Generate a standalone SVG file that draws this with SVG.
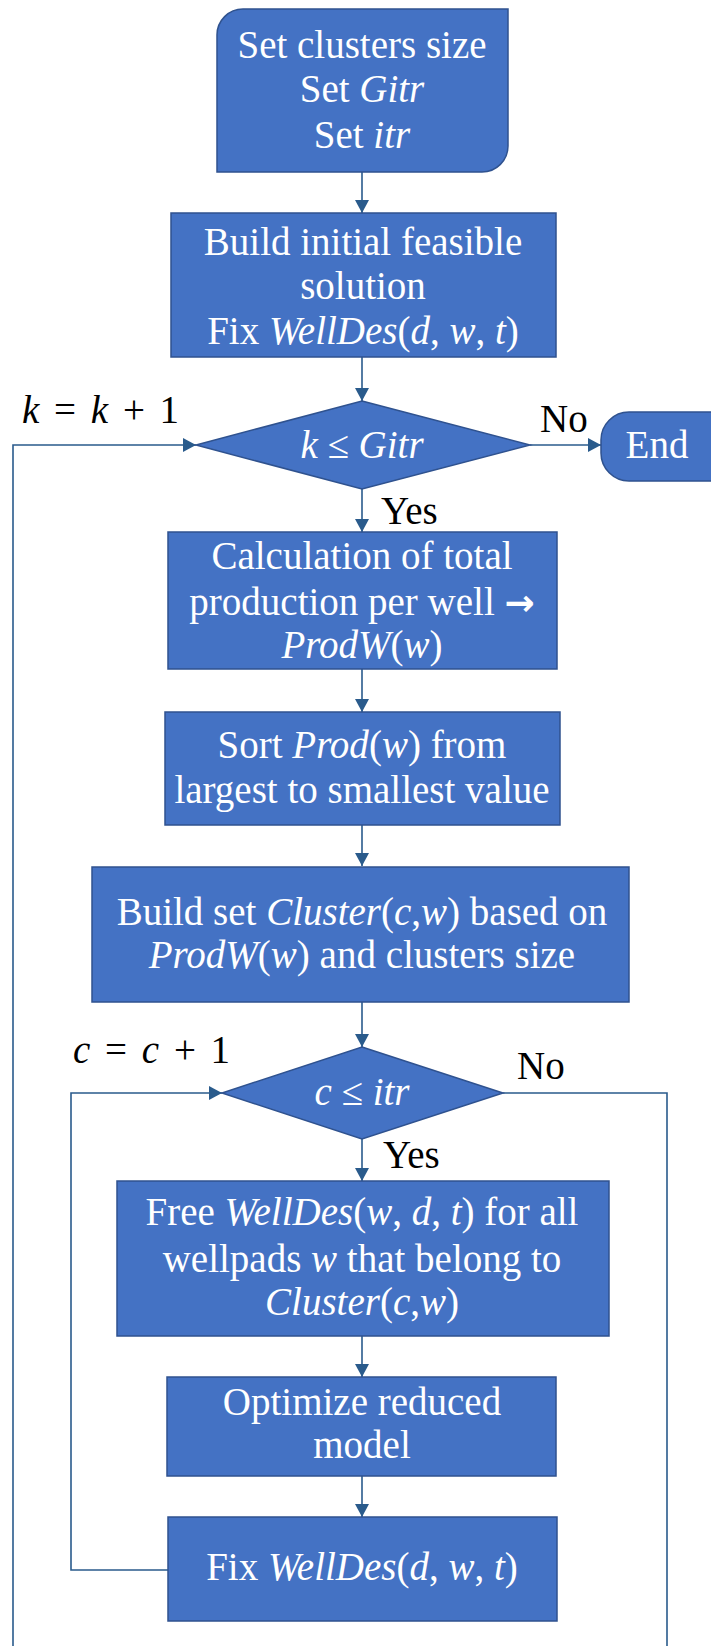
<svg xmlns="http://www.w3.org/2000/svg" width="711" height="1646" viewBox="0 0 711 1646">
<style>
.box{fill:#4472C4;stroke:#2F528F;stroke-width:1.5}
.t{font-family:"Liberation Serif","Times New Roman",serif;font-size:39px;fill:#fff;text-anchor:middle}
.l{font-family:"Liberation Serif","Times New Roman",serif;font-size:39px;fill:#000}
.m{word-spacing:5px}
.i{font-style:italic}
.ar{font-family:"DejaVu Sans",sans-serif;font-size:36px;font-weight:bold}
.c{fill:none;stroke:#2A5B8C;stroke-width:1.6}
</style>
<defs>
<marker id="ah" markerUnits="userSpaceOnUse" markerWidth="14" markerHeight="14" refX="13" refY="7" orient="auto">
<path d="M0,0 L13,7 L0,14 z" fill="#2A5B8C"/>
</marker>
</defs>
<rect width="711" height="1646" fill="#fff"/>
<g id="connectors">
<path class="c" d="M362,172 V213" marker-end="url(#ah)"/>
<path class="c" d="M362,357 V401" marker-end="url(#ah)"/>
<path class="c" d="M530,445 H601" marker-end="url(#ah)"/>
<path class="c" d="M362,489 V532" marker-end="url(#ah)"/>
<path class="c" d="M362,669 V712" marker-end="url(#ah)"/>
<path class="c" d="M362,825 V866" marker-end="url(#ah)"/>
<path class="c" d="M362,1002 V1047" marker-end="url(#ah)"/>
<path class="c" d="M362,1139 V1181" marker-end="url(#ah)"/>
<path class="c" d="M362,1336 V1377" marker-end="url(#ah)"/>
<path class="c" d="M362,1476 V1517" marker-end="url(#ah)"/>
<path class="c" d="M168,1570 H71 V1093 H222" marker-end="url(#ah)"/>
<path class="c" d="M13,1650 V445 H196" marker-end="url(#ah)"/>
<path class="c" d="M503,1093 H667 V1650"/>
<text class="l m" x="22" y="423"><tspan class="i">k</tspan> = <tspan class="i">k</tspan> + 1</text>
<text class="l" x="540" y="432">No</text>
<text class="l" x="381" y="524">Yes</text>
<text class="l m" x="73" y="1063"><tspan class="i">c</tspan> = <tspan class="i">c</tspan> + 1</text>
<text class="l" x="517" y="1079">No</text>
<text class="l" x="383" y="1168">Yes</text>
</g>
<g id="start">
<path class="box" d="M243,9 H508 V146 A26,26 0 0 1 482,172 H217 V35 A26,26 0 0 1 243,9 Z"/>
<text class="t" x="362" y="58">Set clusters size</text>
<text class="t" x="362" y="102">Set <tspan class="i">Gitr</tspan></text>
<text class="t" x="362" y="148">Set <tspan class="i">itr</tspan></text>
</g>
<g id="init">
<rect class="box" x="171" y="213" width="385" height="144"/>
<text class="t" x="363" y="255">Build initial feasible</text>
<text class="t" x="363" y="299">solution</text>
<text class="t" x="363" y="344">Fix <tspan class="i">WellDes</tspan>(<tspan class="i">d</tspan>, <tspan class="i">w</tspan>, <tspan class="i">t</tspan>)</text>
</g>
<g id="decK">
<path class="box" d="M362,401 L530,445 L362,489 L196,445 Z"/>
<text class="t" x="362" y="458"><tspan class="i">k</tspan> ≤ <tspan class="i">Gitr</tspan></text>
</g>
<g id="end">
<rect class="box" x="601" y="412" width="140" height="69" rx="28"/>
<text class="t" x="657" y="458">End</text>
</g>
<g id="calc">
<rect class="box" x="168" y="532" width="389" height="137"/>
<text class="t" x="362" y="569">Calculation of total</text>
<text class="t" x="362" y="615">production per well <tspan class="ar">→</tspan></text>
<text class="t" x="362" y="658"><tspan class="i">ProdW</tspan>(<tspan class="i">w</tspan>)</text>
</g>
<g id="sort">
<rect class="box" x="165" y="712" width="395" height="113"/>
<text class="t" x="362" y="758">Sort <tspan class="i">Prod</tspan>(<tspan class="i">w</tspan>) from</text>
<text class="t" x="362" y="803">largest to smallest value</text>
</g>
<g id="cluster">
<rect class="box" x="92" y="867" width="537" height="135"/>
<text class="t" x="362" y="925">Build set <tspan class="i">Cluster</tspan>(<tspan class="i">c</tspan>,<tspan class="i">w</tspan>) based on</text>
<text class="t" x="362" y="968"><tspan class="i">ProdW</tspan>(<tspan class="i">w</tspan>) and clusters size</text>
</g>
<g id="decC">
<path class="box" d="M362,1047 L503,1093 L362,1139 L222,1093 Z"/>
<text class="t" x="362" y="1105"><tspan class="i">c</tspan> ≤ <tspan class="i">itr</tspan></text>
</g>
<g id="free">
<rect class="box" x="117" y="1181" width="492" height="155"/>
<text class="t" x="362" y="1225">Free <tspan class="i">WellDes</tspan>(<tspan class="i">w</tspan>, <tspan class="i">d</tspan>, <tspan class="i">t</tspan>) for all</text>
<text class="t" x="362" y="1272">wellpads <tspan class="i">w</tspan> that belong to</text>
<text class="t" x="362" y="1315"><tspan class="i">Cluster</tspan>(<tspan class="i">c</tspan>,<tspan class="i">w</tspan>)</text>
</g>
<g id="optimize">
<rect class="box" x="167" y="1377" width="389" height="99"/>
<text class="t" x="362" y="1415">Optimize reduced</text>
<text class="t" x="362" y="1458">model</text>
</g>
<g id="fix">
<rect class="box" x="168" y="1517" width="389" height="104"/>
<text class="t" x="362" y="1580">Fix <tspan class="i">WellDes</tspan>(<tspan class="i">d</tspan>, <tspan class="i">w</tspan>, <tspan class="i">t</tspan>)</text>
</g>
</svg>
